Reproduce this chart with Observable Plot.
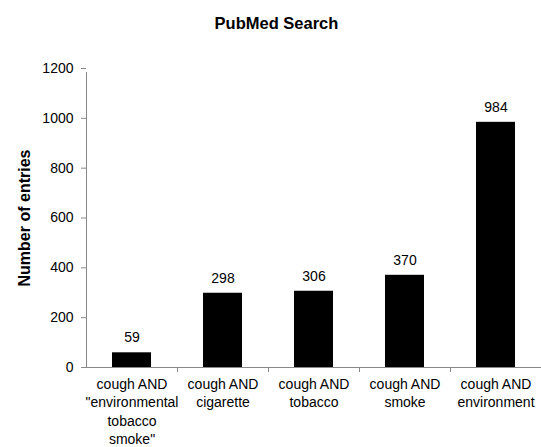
<!DOCTYPE html>
<html><head><meta charset="utf-8">
<script src="https://cdn.jsdelivr.net/npm/d3@7"></script>
<script src="https://cdn.jsdelivr.net/npm/@observablehq/plot@0.6"></script>
<style>
body{margin:0;background:#fff;font-family:"Liberation Sans",Arial,sans-serif;}
#title{height:50px;width:529px;padding-left:12px;text-align:center;font-weight:bold;font-size:16.5px;line-height:46px;color:#000;}
</style></head><body>
<div id="title">PubMed Search</div>
<div id="chart"></div>
<script>
const categories = ["c1","c2","c3","c4","c5"];
const tickLabels = ["cough AND\n\"environmental\ntobacco\nsmoke\"","cough AND\ncigarette","cough AND\ntobacco","cough AND\nsmoke","cough AND\nenvironment"];
const values = [59, 298, 306, 370, 984];
const yTicks = [0,200,400,600,800,1000,1200];
const yLabel = "Number of entries";
const data = categories.map((c,i)=>({cat:c, value:values[i]}));
const labelOf = Object.fromEntries(categories.map((c,i)=>[c,tickLabels[i]]));

const chart = Plot.plot({
  width: 541, height: 397,
  marginTop: 18, marginBottom: 80, marginLeft: 86, marginRight: 0,
  style: {fontFamily: "'Liberation Sans', Arial, sans-serif", fontSize: "14px", color: "#000", background: "#fff"},
  x: {domain: categories, paddingInner: 0, paddingOuter: 0},
  y: {domain: [0,1200]},
  marks: [
    Plot.axisY({ticks: yTicks, tickSize: 5, tickPadding: 8, tickFormat: d => String(d), label: null, fontSize: 14, stroke: "#888"}),
    Plot.axisX({tickSize: 0, tickPadding: 8, tickFormat: d => labelOf[d], lineHeight: 1.32, label: null, fontSize: 14}),
    Plot.barY(data, {x: "cat", y: "value", fill: "#000", insetLeft: 26, insetRight: 26}),
    Plot.text(data, {x: "cat", y: "value", text: d => String(d.value), dy: -15, fontSize: 14, fill: "#000"}),
    Plot.ruleY([0], {stroke: "#888"}),
    Plot.ruleX([0], {x: () => categories[0], dx: -45.5, y1: 0, y2: 1200, insetBottom: -4, stroke: "#888"}),
    Plot.ruleX(categories.slice(0,4), {x: d => d, dx: 45.5, y1: 0, y2: 0, insetBottom: -5, stroke: "#888"}),
    Plot.text([yLabel], {y: () => 600, frameAnchor: "left", textAnchor: "middle", dx: -62, rotate: -90, fontWeight: "bold", fontSize: 16, fill: "#000"})
  ]
});
document.getElementById("chart").appendChild(chart);
</script>
</body></html>
